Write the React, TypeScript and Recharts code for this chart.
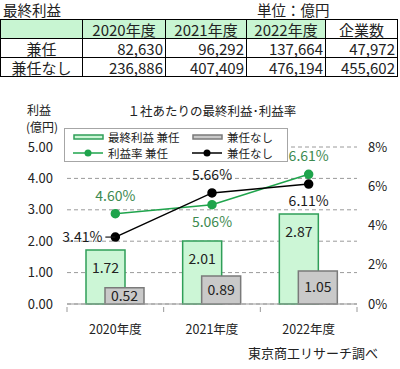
import {
  ComposedChart,
  Bar,
  Line,
  XAxis,
  YAxis,
  CartesianGrid,
  Legend,
  LabelList,
} from "recharts";

/* data */
const years = ["2020年度", "2021年度", "2022年度"];
const profitConcurrent = [1.72, 2.01, 2.87];
const profitNone = [0.52, 0.89, 1.05];
const rateConcurrent = [4.6, 5.06, 6.61];
const rateNone = [3.41, 5.66, 6.11];

const tableHeader = ["", "2020年度", "2021年度", "2022年度", "企業数"];
const tableRowLabels = ["兼任", "兼任なし"];
const tableConcurrent = ["82,630", "96,292", "137,664", "47,972"];
const tableNone = ["236,886", "407,409", "476,194", "455,602"];

const leftTicks = [0, 1, 2, 3, 4, 5];
const rightTicks = [0, 2, 4, 6, 8];

/* styles */
const FONT = '"Noto Sans CJK JP", "Noto Sans", sans-serif';
const GREEN = "#1fa44c";
const GREEN_TEXT = "#3d8a50";
const BAR_GREEN_FILL = "#ccf6d6";
const BAR_GREEN_STROKE = "#2f9e58";
const BAR_GRAY_FILL = "#c9c9c9";
const BAR_GRAY_STROKE = "#7a7a7a";

const greenLabelPos = ["top", "bottom", "top"];
const blackLabelPos = ["left", "top", "bottom"];

const chartData = years.map((year, i) => ({
  year,
  profitConcurrent: profitConcurrent[i],
  profitNone: profitNone[i],
  rateConcurrent: rateConcurrent[i],
  rateNone: rateNone[i],
}));

const makeRateLabel = (positions: string[], color: string) => (props: any) => {
  const { x, y, value, index } = props;
  const pos = positions[index];
  const text = `${Number(value).toFixed(2)}%`;
  if (pos === "left") {
    return (
      <g>
        <line x1={x - 10} y1={y} x2={x} y2={y} stroke={color} strokeWidth={1.2} />
        <text x={x - 13} y={y + 5} textAnchor="end" fill={color} fontSize={14} fontFamily={FONT}>
          {text}
        </text>
      </g>
    );
  }
  const dy = pos === "top" ? -13 : 22;
  return (
    <text x={x} y={y + dy} textAnchor="middle" fill={color} fontSize={14} fontFamily={FONT}>
      {text}
    </text>
  );
};

const XTick = (props: any) => {
  const { x, y, payload, index, visibleTicksCount } = props;
  const half = payload?.offset || 48;
  return (
    <g>
      <line x1={x - half} y1={y - 5} x2={x - half} y2={y} stroke="#999" />
      {index === visibleTicksCount - 1 && (
        <line x1={x + half} y1={y - 5} x2={x + half} y2={y} stroke="#999" />
      )}
      <text x={x} y={y + 22} textAnchor="middle" fill="#222" fontSize={12.5} fontFamily={FONT}>
        {payload.value}
      </text>
    </g>
  );
};

const legendItems = [
  { label: "最終利益 兼任", kind: "box", fill: BAR_GREEN_FILL, stroke: BAR_GREEN_STROKE },
  { label: "兼任なし", kind: "box", fill: BAR_GRAY_FILL, stroke: BAR_GRAY_STROKE },
  { label: "利益率 兼任", kind: "line", fill: GREEN, stroke: GREEN },
  { label: "兼任なし", kind: "line", fill: "#000", stroke: "#000" },
];

const LegendBox = () => (
  <div
    style={{
      width: 224,
      height: 34,
      boxSizing: "border-box",
      border: "1px solid #a6a6a6",
      background: "#fff",
      display: "grid",
      gridTemplateColumns: "119px 100px",
      paddingLeft: 8,
      paddingTop: 0,
      fontFamily: FONT,
      fontSize: 11.5,
      lineHeight: "16px",
      color: "#222",
    }}
  >
    {legendItems.map((it, i) => (
      <div key={i} style={{ display: "flex", alignItems: "center", height: 16 }}>
        <svg width={32} height={12} style={{ marginRight: 3 }}>
          {it.kind === "box" ? (
            <rect x={1} y={4} width={29} height={4} fill={it.fill} stroke={it.stroke} strokeWidth={1.5} />
          ) : (
            <g>
              <line x1={0} y1={6} x2={30} y2={6} stroke={it.stroke} strokeWidth={1.5} />
              <circle cx={15} cy={6} r={3.5} fill={it.fill} />
            </g>
          )}
        </svg>
        <span style={{ whiteSpace: "nowrap" }}>{it.label}</span>
      </div>
    ))}
  </div>
);

const cell: React.CSSProperties = {
  border: "1px solid #000",
  padding: "0 2px",
  height: 18,
  lineHeight: "17px",
  textAlign: "right",
};

export default function App() {
  return (
    <div
      style={{
        position: "absolute",
        left: 0,
        top: 0,
        width: 400,
        height: 369,
        background: "#fff",
        fontFamily: FONT,
        color: "#222",
        overflow: "hidden",
      }}
    >
      <ComposedChart
        width={400}
        height={369}
        data={chartData}
        margin={{ top: 147, right: 3, bottom: 35, left: 7 }}
        barGap={-20}
        style={{ position: "absolute", left: 0, top: 0 }}
      >
        <CartesianGrid vertical={false} stroke="#9a9a9a" strokeDasharray="4 3" yAxisId="left" />
        <XAxis
          dataKey="year"
          axisLine={{ stroke: "#999" }}
          tickLine={false}
          tick={<XTick />}
          height={30}
          interval={0}
        />
        <YAxis
          yAxisId="left"
          domain={[0, 5]}
          ticks={leftTicks}
          tickFormatter={(v: number) => v.toFixed(2)}
          axisLine={false}
          tickLine={false}
          tickSize={0}
          tickMargin={14}
          width={60}
          interval={0}
          tick={{ fill: "#222", fontSize: 13, fontFamily: FONT }}
        />
        <YAxis
          yAxisId="right"
          orientation="right"
          domain={[0, 8]}
          ticks={rightTicks}
          tickFormatter={(v: number) => `${v}%`}
          axisLine={false}
          tickLine={false}
          tickSize={0}
          tickMargin={11}
          width={40}
          interval={0}
          tick={{ fill: "#222", fontSize: 13, fontFamily: FONT, textAnchor: "start" }}
        />
        <Legend
          layout="horizontal"
          verticalAlign="middle"
          align="center"
          content={<LegendBox />}
          wrapperStyle={{ position: "absolute", left: 64, top: 128, width: 224, height: 34 }}
        />
        <Bar
          yAxisId="left"
          dataKey="profitConcurrent"
          name="最終利益 兼任"
          barSize={39}
          fill={BAR_GREEN_FILL}
          stroke={BAR_GREEN_STROKE}
          strokeWidth={1.5}
          isAnimationActive={false}
        >
          <LabelList
            dataKey="profitConcurrent"
            position="insideTop"
            offset={13}
            formatter={(v: any) => Number(v).toFixed(2)}
            fill="#222"
            fontSize={14}
            fontFamily={FONT}
          />
        </Bar>
        <Bar
          yAxisId="left"
          dataKey="profitNone"
          name="兼任なし"
          barSize={39}
          fill={BAR_GRAY_FILL}
          stroke={BAR_GRAY_STROKE}
          strokeWidth={1.5}
          isAnimationActive={false}
        >
          <LabelList
            dataKey="profitNone"
            position="center"
            formatter={(v: any) => Number(v).toFixed(2)}
            fill="#222"
            fontSize={14}
            fontFamily={FONT}
          />
        </Bar>
        <Line
          yAxisId="right"
          dataKey="rateConcurrent"
          name="利益率 兼任"
          stroke={GREEN}
          strokeWidth={1.5}
          dot={{ r: 4, fill: GREEN, stroke: GREEN }}
          isAnimationActive={false}
        >
          <LabelList dataKey="rateConcurrent" content={makeRateLabel(greenLabelPos, GREEN_TEXT)} />
        </Line>
        <Line
          yAxisId="right"
          dataKey="rateNone"
          name="兼任なし"
          stroke="#000"
          strokeWidth={1.5}
          dot={{ r: 4, fill: "#000", stroke: "#000" }}
          isAnimationActive={false}
        >
          <LabelList dataKey="rateNone" content={makeRateLabel(blackLabelPos, "#1a1a1a")} />
        </Line>
      </ComposedChart>

      {/* table above the chart */}
      <div style={{ position: "absolute", left: 3, top: 1, fontSize: 14.5, lineHeight: "17px" }}>最終利益</div>
      <div style={{ position: "absolute", left: 257, top: 1, fontSize: 14.5, lineHeight: "17px" }}>単位：億円</div>
      <table
        style={{
          position: "absolute",
          left: 0,
          top: 19,
          width: 397,
          borderCollapse: "collapse",
          fontSize: 15,
          tableLayout: "fixed",
        }}
      >
        <colgroup>
          <col style={{ width: 82 }} />
          <col style={{ width: 83 }} />
          <col style={{ width: 81 }} />
          <col style={{ width: 79 }} />
          <col style={{ width: 72 }} />
        </colgroup>
        <tbody>
          <tr>
            {tableHeader.map((h, i) => (
              <td
                key={i}
                style={{
                  ...cell,
                  textAlign: "center",
                  background: i === 4 ? "#fff" : "#c8f5d2",
                }}
              >
                {h}
              </td>
            ))}
          </tr>
          {[tableConcurrent, tableNone].map((row, r) => (
            <tr key={r}>
              <td style={{ ...cell, textAlign: "center" }}>{tableRowLabels[r]}</td>
              {row.map((v, i) => (
                <td key={i} style={cell}>
                  {v}
                </td>
              ))}
            </tr>
          ))}
        </tbody>
      </table>

      {/* chart titles */}
      <div style={{ position: "absolute", left: 0, width: 424, top: 101, textAlign: "center", fontSize: 12.5 }}>
        １社あたりの最終利益･利益率
      </div>
      <div style={{ position: "absolute", left: 27, top: 101, fontSize: 12 }}>利益</div>
      <div style={{ position: "absolute", left: 26, top: 118, fontSize: 12 }}>(億円)</div>
      <div style={{ position: "absolute", left: 248, top: 343, fontSize: 13 }}>東京商工リサーチ調べ</div>
    </div>
  );
}
